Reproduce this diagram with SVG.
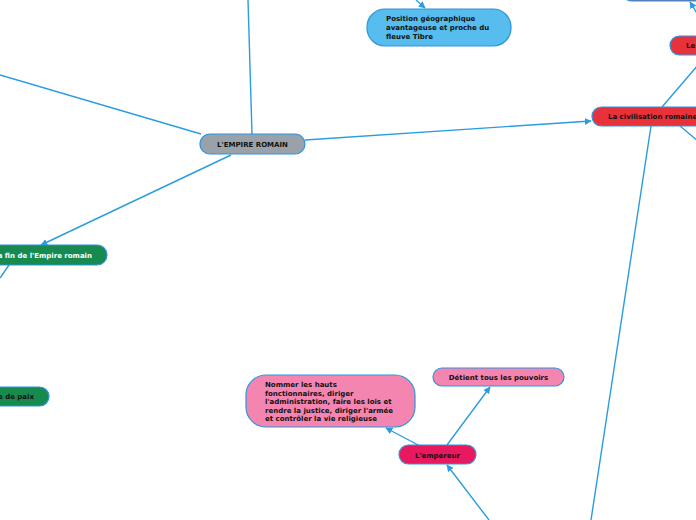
<svg xmlns="http://www.w3.org/2000/svg" width="696" height="520" viewBox="0 0 696 520">
<defs>
<style>
.n{stroke:#2f94dc;stroke-width:1.2}
.t{font-family:"DejaVu Sans",Verdana,sans-serif;font-weight:bold;font-size:7px;fill:#111}
.tw{font-family:"DejaVu Sans",Verdana,sans-serif;font-weight:bold;font-size:7px;fill:#fff}
.c{stroke:#2a9de0;stroke-width:1.4;fill:none}
</style>
<marker id="a" viewBox="0 0 10 10" refX="9" refY="5" markerWidth="7" markerHeight="7" orient="auto" markerUnits="userSpaceOnUse">
<path d="M0,0L10,5L0,10z" fill="#2a9de0"/>
</marker>
</defs>
<rect width="696" height="520" fill="#fff"/>
<g id="connectors">
<line class="c" x1="252" y1="134" x2="248" y2="0"/>
<line class="c" x1="0" y1="75" x2="201" y2="134"/>
<line class="c" x1="305" y1="140" x2="591" y2="121" marker-end="url(#a)"/>
<line class="c" x1="231" y1="155" x2="41" y2="245" marker-end="url(#a)"/>
<line class="c" x1="9" y1="265" x2="0" y2="278"/>
<line class="c" x1="416" y1="0" x2="425" y2="8" marker-end="url(#a)"/>
<line class="c" x1="700" y1="18" x2="690" y2="2" marker-end="url(#a)"/>
<line class="c" x1="662" y1="107" x2="698" y2="65"/>
<line class="c" x1="680" y1="126" x2="698" y2="141"/>
<line class="c" x1="651" y1="126" x2="591" y2="520"/>
<line class="c" x1="447" y1="445" x2="490" y2="387" marker-end="url(#a)"/>
<line class="c" x1="420" y1="446" x2="386" y2="428" marker-end="url(#a)"/>
<line class="c" x1="489" y1="520" x2="447" y2="465" marker-end="url(#a)"/>
</g>
<g id="empire">
<rect class="n" x="200" y="134" width="105" height="20" rx="10" fill="#99a1a9"/>
<text class="t" x="252.5" y="146.5" text-anchor="middle">L'EMPIRE ROMAIN</text>
</g>
<g id="position">
<rect class="n" x="367" y="9" width="144" height="37" rx="18" fill="#56bdee"/>
<text class="t" x="386" y="21">Position géographique</text>
<text class="t" x="386" y="30">avantageuse et proche du</text>
<text class="t" x="386" y="39">fleuve Tibre</text>
</g>
<g id="top-right">
<rect class="n" x="622" y="-20" width="90" height="21" rx="10" fill="#7a6fa0"/>
</g>
<g id="le">
<rect class="n" x="670" y="36" width="50" height="19" rx="9.5" fill="#e8313b"/>
<text class="t" x="686" y="48">Le</text>
</g>
<g id="civilisation">
<rect class="n" x="592" y="107" width="115" height="19" rx="9.5" fill="#e8313b"/>
<text class="t" x="608" y="119">La civilisation romaine</text>
</g>
<g id="fin">
<rect class="n" x="-20" y="245" width="127" height="20" rx="10" fill="#178a4f"/>
<text class="tw" x="92" y="257.5" text-anchor="end">La fin de l'Empire romain</text>
</g>
<g id="paix">
<rect class="n" x="-60" y="387" width="109" height="19" rx="9.5" fill="#178a4f"/>
<text class="t" x="34" y="399" text-anchor="end">période de paix</text>
</g>
<g id="nommer">
<rect class="n" x="246" y="375" width="169" height="52" rx="20" fill="#f485b0"/>
<text class="t" x="265" y="387">Nommer les hauts</text>
<text class="t" x="265" y="395.5">fonctionnaires, diriger</text>
<text class="t" x="265" y="404">l'administration, faire les lois et</text>
<text class="t" x="265" y="412.5">rendre la justice, diriger l'armée</text>
<text class="t" x="265" y="421">et contrôler la vie religieuse</text>
</g>
<g id="detient">
<rect class="n" x="433" y="368" width="131" height="18" rx="9" fill="#f485b0"/>
<text class="t" x="498.5" y="379.5" text-anchor="middle">Détient tous les pouvoirs</text>
</g>
<g id="empereur">
<rect class="n" x="399" y="445" width="77" height="19" rx="9.5" fill="#e8195f"/>
<text class="t" x="437.5" y="457.5" text-anchor="middle">L'empereur</text>
</g>
</svg>
